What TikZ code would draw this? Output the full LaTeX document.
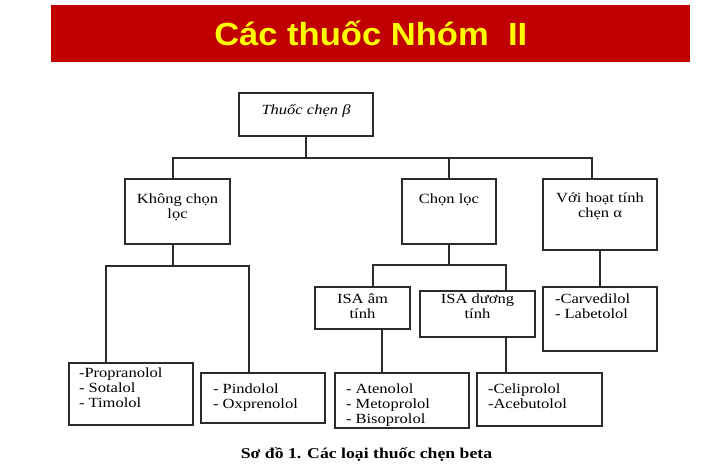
\documentclass[tikz,border=0pt]{standalone}
\usepackage{fontspec}
\setmainfont{Liberation Serif}[FakeStretch=1.18]
\newfontfamily\titlefont{Liberation Sans}[FakeStretch=1.08]
\usepackage{tikz}
\usetikzlibrary{positioning}
\definecolor{bannerred}{HTML}{C00000}
\definecolor{banneryellow}{HTML}{FFFF00}
\definecolor{wiregray}{HTML}{2B2B2B}

\newlength\pxu
\setlength\pxu{0.75pt}
% box text: width, height, first baseline (px), text
\newcommand{\ctrcell}[4]{\begin{minipage}[t][#2\pxu][t]{#1\pxu}\centering\rule{0pt}{#3\pxu}#4\end{minipage}}
% list text: width, height, first baseline, indent (px), text
\newcommand{\lstcell}[5]{\begin{minipage}[t][#2\pxu][t]{#1\pxu}\raggedright\leftskip=#4\pxu\rule{0pt}{#3\pxu}#5\end{minipage}}

\begin{document}
\begin{tikzpicture}[
    x=0.75pt, y=-0.75pt,
    cell/.style={draw=wiregray, line width=0.9pt, inner sep=0pt, outer sep=0pt, anchor=north west,
                 font=\fontsize{10.5pt}{11.25pt}\selectfont},
    wire/.style={draw=wiregray, line width=0.9pt},
    banner/.style={fill=bannerred, inner sep=0pt, anchor=north west, minimum width=639\pxu, minimum height=57\pxu,
                   text=banneryellow, font=\titlefont\bfseries\fontsize{24pt}{28pt}\selectfont},
    caption/.style={anchor=base, inner sep=0pt, font=\bfseries\fontsize{11.25pt}{13pt}\selectfont}
]
\useasboundingbox (0,0) rectangle (718,467);

\node[banner] (title) at (51,5) {Các thuốc Nhóm\ \ II};

\node[cell] (beta)   at (239,93)  {\ctrcell{134}{43}{22}{\itshape Thuốc chẹn β}};
\node[cell] (nonsel) at (125,179) {\ctrcell{105}{65}{24}{Không chọn\\lọc}};
\node[cell] (sel)    at (402,179) {\ctrcell{94}{65}{24}{Chọn lọc}};
\node[cell] (alpha)  at (543,179) {\ctrcell{114}{71}{23}{Với hoạt tính\\chẹn α}};

\node[cell] (isaneg) at (315,287) {\ctrcell{95}{42}{16}{ISA âm\\tính}};
\node[cell] (isapos) at (420,291) {\ctrcell{115}{46}{12}{ISA dương\\tính}};
\node[cell] (mixed)  at (543,287) {\lstcell{114}{64}{16}{12}{-Carvedilol\\- Labetolol}};

\node[cell] (prop)   at (69,363)  {\lstcell{124}{62}{14}{10}{-Propranolol\\- Sotalol\\- Timolol}};
\node[cell] (pind)   at (201,373) {\lstcell{124}{50}{20}{12}{- Pindolol\\- Oxprenolol}};
\node[cell] (aten)   at (335,373) {\lstcell{134}{55}{20}{11}{- Atenolol\\- Metoprolol\\- Bisoprolol}};
\node[cell] (celi)   at (477,373) {\lstcell{125}{53}{20}{11}{-Celiprolol\\-Acebutolol}};

\node[caption] (cap) at (366.5,458) {Sơ đồ 1. Các loại thuốc chẹn beta};

% tree
\draw[wire] (beta.south) -- ++(0,22) coordinate (topbus);
\draw[wire] ([shift={(-4.5,0)}]nonsel.north) |- (topbus) -| ([shift={(-8,0)}]alpha.north);
\draw[wire] (sel.north) -- (sel.north |- topbus);

\draw[wire] ([shift={(-4.5,0)}]nonsel.south) -- ++(0,22) coordinate (leftbus);
\draw[wire] ([shift={(-25,0)}]prop.north) |- (leftbus) -| ([shift={(-14,0)}]pind.north);

\draw[wire] (sel.south) -- ++(0,21) coordinate (midbus);
\draw[wire] ([shift={(10.5,0)}]isaneg.north) |- (midbus) -| ([shift={(28.5,0)}]isapos.north);

\draw[wire] (alpha.south) -- (mixed.north);
\draw[wire] ([shift={(19.5,0)}]isaneg.south) -- ([shift={(19.5,0)}]isaneg.south |- aten.north);
\draw[wire] ([shift={(28.5,0)}]isapos.south) -- ([shift={(28.5,0)}]isapos.south |- celi.north);

\end{tikzpicture}
\end{document}
